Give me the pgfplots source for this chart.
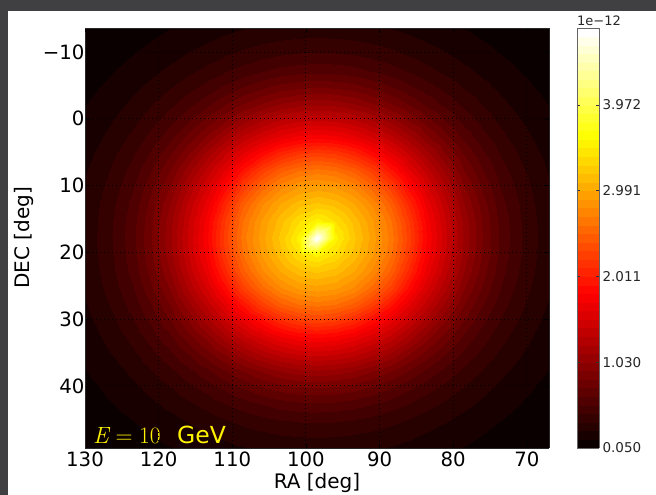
\documentclass[border=0pt]{standalone}
\usepackage{fontspec}
\setmainfont{DejaVu Sans}
\newfontfamily\lmr{Latin Modern Roman}
\usepackage{pgfplots}
\pgfplotsset{compat=1.18}
\definecolor{bgtex}{RGB}{64,64,66}
\definecolor{frame}{RGB}{40,40,40}
\definecolor{cbframe}{RGB}{100,100,100}
\pgfplotsset{
  colormap={mhot}{rgb(0cm)=(0.0416,0,0); rgb(3.65cm)=(1,0,0); rgb(7.46cm)=(1,1,0); rgb(10cm)=(1,1,1)}
}
\begin{document}
\begin{tikzpicture}
\path[use as bounding box] (0pt,0pt) rectangle (656pt,495pt);
\fill[bgtex] (0pt,0pt) rectangle (656pt,495pt);
\fill[white] (8pt,0pt) rectangle (656pt,484pt);
\begin{axis}[
  at={(85pt,47pt)}, anchor=south west,
  scale only axis, width=464pt, height=420pt,
  view={0}{90},
  xmin=67, xmax=130, ymin=-13.6, ymax=49.3,
  x dir=reverse, y dir=reverse,
  xtick={70,80,90,100,110,120,130},
  xticklabels={70,80,90,100,110,120,130},
  ytick={-10,0,10,20,30,40},
  yticklabels={−10,0,10,20,30,40},
  yticklabel pos=upper,
  ztick=\empty,
  tick label style={font=\fontsize{19.7}{23}\selectfont, text=black},
  yticklabel style={xshift=3pt},
  xlabel={RA [deg]}, ylabel={DEC [deg]},
  label style={font=\fontsize{20}{24}\selectfont},
  xlabel style={at={(axis description cs:0.5,-0.0976)}, anchor=base},
  ylabel style={at={(axis description cs:-0.1315,0.5)}, anchor=center},
  grid=major,
  grid style={black, line width=0.9pt, dash pattern=on 1.3pt off 2.7pt},
  axis on top,
  axis line style={frame, line width=0.8pt},
  tick style={black, line width=0.6pt},
  major tick length=4pt, tick align=inside,
  colormap name=mhot,
  point meta min=0.05, point meta max=4.85,
  colorbar,
  colorbar style={
    at={(parent axis.north east)}, anchor=north west, xshift=19.5pt,
    width=22pt,
    ytick={0.05,1.0305,2.011,2.9915,3.972},
    yticklabels={0.050,1.030,2.011,2.991,3.972},
    yticklabel style={font=\fontsize{13.5}{16}\selectfont, text=black!85},
    major tick length=3pt, tick align=inside,
    tick style={black!80, line width=0.6pt},
    axis line style={cbframe, line width=0.8pt},
    extra description/.code={
      \node[anchor=base west, inner sep=0pt, font=\fontsize{13}{15}\selectfont, text=black!85] at ([yshift=3pt]axis description cs:0,1) {1e−12};
    },
  },
]
\addplot3[contour filled={number=49}, mesh/cols=27] table {
131 -14.7 0.050
128.5 -14.7 0.059
126 -14.7 0.074
123.5 -14.7 0.090
121 -14.7 0.107
118.5 -14.7 0.128
116 -14.7 0.152
113.5 -14.7 0.174
111 -14.7 0.194
108.5 -14.7 0.210
106 -14.7 0.229
103.5 -14.7 0.244
101 -14.7 0.252
98.5 -14.7 0.255
96 -14.7 0.252
93.5 -14.7 0.244
91 -14.7 0.229
88.5 -14.7 0.210
86 -14.7 0.194
83.5 -14.7 0.174
81 -14.7 0.152
78.5 -14.7 0.128
76 -14.7 0.107
73.5 -14.7 0.090
71 -14.7 0.074
68.5 -14.7 0.059
66 -14.7 0.050

131 -12.2 0.059
128.5 -12.2 0.076
126 -12.2 0.093
123.5 -12.2 0.114
121 -12.2 0.140
118.5 -12.2 0.169
116 -12.2 0.195
113.5 -12.2 0.224
111 -12.2 0.255
108.5 -12.2 0.281
106 -12.2 0.303
103.5 -12.2 0.323
101 -12.2 0.336
98.5 -12.2 0.340
96 -12.2 0.336
93.5 -12.2 0.323
91 -12.2 0.303
88.5 -12.2 0.281
86 -12.2 0.255
83.5 -12.2 0.224
81 -12.2 0.195
78.5 -12.2 0.169
76 -12.2 0.140
73.5 -12.2 0.114
71 -12.2 0.093
68.5 -12.2 0.076
66 -12.2 0.059

131 -9.7 0.074
128.5 -9.7 0.093
126 -9.7 0.117
123.5 -9.7 0.147
121 -9.7 0.179
118.5 -9.7 0.210
116 -9.7 0.252
113.5 -9.7 0.290
111 -9.7 0.332
108.5 -9.7 0.370
106 -9.7 0.405
103.5 -9.7 0.432
101 -9.7 0.449
98.5 -9.7 0.455
96 -9.7 0.449
93.5 -9.7 0.432
91 -9.7 0.405
88.5 -9.7 0.370
86 -9.7 0.332
83.5 -9.7 0.290
81 -9.7 0.252
78.5 -9.7 0.210
76 -9.7 0.179
73.5 -9.7 0.147
71 -9.7 0.117
68.5 -9.7 0.093
66 -9.7 0.074

131 -7.2 0.090
128.5 -7.2 0.114
126 -7.2 0.147
123.5 -7.2 0.183
121 -7.2 0.221
118.5 -7.2 0.270
116 -7.2 0.319
113.5 -7.2 0.374
111 -7.2 0.432
108.5 -7.2 0.484
106 -7.2 0.534
103.5 -7.2 0.575
101 -7.2 0.601
98.5 -7.2 0.610
96 -7.2 0.601
93.5 -7.2 0.575
91 -7.2 0.534
88.5 -7.2 0.484
86 -7.2 0.432
83.5 -7.2 0.374
81 -7.2 0.319
78.5 -7.2 0.270
76 -7.2 0.221
73.5 -7.2 0.183
71 -7.2 0.147
68.5 -7.2 0.114
66 -7.2 0.090

131 -4.7 0.107
128.5 -4.7 0.140
126 -4.7 0.179
123.5 -4.7 0.221
121 -4.7 0.275
118.5 -4.7 0.336
116 -4.7 0.405
113.5 -4.7 0.478
111 -4.7 0.558
108.5 -4.7 0.640
106 -4.7 0.715
103.5 -4.7 0.776
101 -4.7 0.813
98.5 -4.7 0.825
96 -4.7 0.813
93.5 -4.7 0.776
91 -4.7 0.715
88.5 -4.7 0.640
86 -4.7 0.558
83.5 -4.7 0.478
81 -4.7 0.405
78.5 -4.7 0.336
76 -4.7 0.275
73.5 -4.7 0.221
71 -4.7 0.179
68.5 -4.7 0.140
66 -4.7 0.107

131 -2.2 0.128
128.5 -2.2 0.169
126 -2.2 0.210
123.5 -2.2 0.270
121 -2.2 0.336
118.5 -2.2 0.416
116 -2.2 0.506
113.5 -2.2 0.610
111 -2.2 0.727
108.5 -2.2 0.838
106 -2.2 0.940
103.5 -2.2 1.030
101 -2.2 1.090
98.5 -2.2 1.110
96 -2.2 1.090
93.5 -2.2 1.030
91 -2.2 0.940
88.5 -2.2 0.838
86 -2.2 0.727
83.5 -2.2 0.610
81 -2.2 0.506
78.5 -2.2 0.416
76 -2.2 0.336
73.5 -2.2 0.270
71 -2.2 0.210
68.5 -2.2 0.169
66 -2.2 0.128

131 0.3 0.152
128.5 0.3 0.195
126 0.3 0.252
123.5 0.3 0.319
121 0.3 0.405
118.5 0.3 0.506
116 0.3 0.630
113.5 0.3 0.776
111 0.3 0.924
108.5 0.3 1.090
106 0.3 1.235
103.5 0.3 1.344
101 0.3 1.412
98.5 0.3 1.435
96 0.3 1.412
93.5 0.3 1.344
91 0.3 1.235
88.5 0.3 1.090
86 0.3 0.924
83.5 0.3 0.776
81 0.3 0.630
78.5 0.3 0.506
76 0.3 0.405
73.5 0.3 0.319
71 0.3 0.252
68.5 0.3 0.195
66 0.3 0.152

131 2.8 0.174
128.5 2.8 0.224
126 2.8 0.290
123.5 2.8 0.374
121 2.8 0.478
118.5 2.8 0.610
116 2.8 0.776
113.5 2.8 0.957
111 2.8 1.172
108.5 2.8 1.366
106 2.8 1.532
103.5 2.8 1.670
101 2.8 1.767
98.5 2.8 1.800
96 2.8 1.767
93.5 2.8 1.670
91 2.8 1.532
88.5 2.8 1.366
86 2.8 1.172
83.5 2.8 0.957
81 2.8 0.776
78.5 2.8 0.610
76 2.8 0.478
73.5 2.8 0.374
71 2.8 0.290
68.5 2.8 0.224
66 2.8 0.174

131 5.3 0.194
128.5 5.3 0.255
126 5.3 0.332
123.5 5.3 0.432
121 5.3 0.558
118.5 5.3 0.727
116 5.3 0.924
113.5 5.3 1.172
111 5.3 1.412
108.5 5.3 1.639
106 5.3 1.872
103.5 5.3 2.072
101 5.3 2.208
98.5 5.3 2.255
96 5.3 2.208
93.5 5.3 2.072
91 5.3 1.872
88.5 5.3 1.639
86 5.3 1.412
83.5 5.3 1.172
81 5.3 0.924
78.5 5.3 0.727
76 5.3 0.558
73.5 5.3 0.432
71 5.3 0.332
68.5 5.3 0.255
66 5.3 0.194

131 7.8 0.210
128.5 7.8 0.281
126 7.8 0.370
123.5 7.8 0.484
121 7.8 0.640
118.5 7.8 0.838
116 7.8 1.090
113.5 7.8 1.366
111 7.8 1.639
108.5 7.8 1.946
106 7.8 2.255
103.5 7.8 2.473
101 7.8 2.604
98.5 7.8 2.650
96 7.8 2.604
93.5 7.8 2.473
91 7.8 2.255
88.5 7.8 1.946
86 7.8 1.639
83.5 7.8 1.366
81 7.8 1.090
78.5 7.8 0.838
76 7.8 0.640
73.5 7.8 0.484
71 7.8 0.370
68.5 7.8 0.281
66 7.8 0.210

131 10.3 0.229
128.5 10.3 0.303
126 10.3 0.405
123.5 10.3 0.534
121 10.3 0.715
118.5 10.3 0.940
116 10.3 1.235
113.5 10.3 1.532
111 10.3 1.872
108.5 10.3 2.255
106 10.3 2.559
103.5 10.3 2.778
101 10.3 2.909
98.5 10.3 2.950
96 10.3 2.909
93.5 10.3 2.778
91 10.3 2.559
88.5 10.3 2.255
86 10.3 1.872
83.5 10.3 1.532
81 10.3 1.235
78.5 10.3 0.940
76 10.3 0.715
73.5 10.3 0.534
71 10.3 0.405
68.5 10.3 0.303
66 10.3 0.229

131 12.8 0.244
128.5 12.8 0.323
126 12.8 0.432
123.5 12.8 0.575
121 12.8 0.776
118.5 12.8 1.030
116 12.8 1.344
113.5 12.8 1.670
111 12.8 2.072
108.5 12.8 2.473
106 12.8 2.778
103.5 12.8 2.993
101 12.8 3.145
98.5 12.8 3.210
96 12.8 3.145
93.5 12.8 2.993
91 12.8 2.778
88.5 12.8 2.473
86 12.8 2.072
83.5 12.8 1.670
81 12.8 1.344
78.5 12.8 1.030
76 12.8 0.776
73.5 12.8 0.575
71 12.8 0.432
68.5 12.8 0.323
66 12.8 0.244

131 15.3 0.252
128.5 15.3 0.336
126 15.3 0.449
123.5 15.3 0.601
121 15.3 0.813
118.5 15.3 1.090
116 15.3 1.412
113.5 15.3 1.767
111 15.3 2.208
108.5 15.3 2.604
106 15.3 2.909
103.5 15.3 3.145
101 15.3 3.376
98.5 15.3 3.530
96 15.3 3.376
93.5 15.3 3.145
91 15.3 2.909
88.5 15.3 2.604
86 15.3 2.208
83.5 15.3 1.767
81 15.3 1.412
78.5 15.3 1.090
76 15.3 0.813
73.5 15.3 0.601
71 15.3 0.449
68.5 15.3 0.336
66 15.3 0.252

131 17.8 0.255
128.5 17.8 0.340
126 17.8 0.455
123.5 17.8 0.610
121 17.8 0.825
118.5 17.8 1.110
116 17.8 1.435
113.5 17.8 1.800
111 17.8 2.255
108.5 17.8 2.650
106 17.8 2.950
103.5 17.8 3.210
101 17.8 3.530
98.5 17.8 4.850
96 17.8 3.530
93.5 17.8 3.210
91 17.8 2.950
88.5 17.8 2.650
86 17.8 2.255
83.5 17.8 1.800
81 17.8 1.435
78.5 17.8 1.110
76 17.8 0.825
73.5 17.8 0.610
71 17.8 0.455
68.5 17.8 0.340
66 17.8 0.255

131 20.3 0.252
128.5 20.3 0.336
126 20.3 0.449
123.5 20.3 0.601
121 20.3 0.813
118.5 20.3 1.090
116 20.3 1.412
113.5 20.3 1.767
111 20.3 2.208
108.5 20.3 2.604
106 20.3 2.909
103.5 20.3 3.145
101 20.3 3.376
98.5 20.3 3.530
96 20.3 3.376
93.5 20.3 3.145
91 20.3 2.909
88.5 20.3 2.604
86 20.3 2.208
83.5 20.3 1.767
81 20.3 1.412
78.5 20.3 1.090
76 20.3 0.813
73.5 20.3 0.601
71 20.3 0.449
68.5 20.3 0.336
66 20.3 0.252

131 22.8 0.244
128.5 22.8 0.323
126 22.8 0.432
123.5 22.8 0.575
121 22.8 0.776
118.5 22.8 1.030
116 22.8 1.344
113.5 22.8 1.670
111 22.8 2.072
108.5 22.8 2.473
106 22.8 2.778
103.5 22.8 2.993
101 22.8 3.145
98.5 22.8 3.210
96 22.8 3.145
93.5 22.8 2.993
91 22.8 2.778
88.5 22.8 2.473
86 22.8 2.072
83.5 22.8 1.670
81 22.8 1.344
78.5 22.8 1.030
76 22.8 0.776
73.5 22.8 0.575
71 22.8 0.432
68.5 22.8 0.323
66 22.8 0.244

131 25.3 0.229
128.5 25.3 0.303
126 25.3 0.405
123.5 25.3 0.534
121 25.3 0.715
118.5 25.3 0.940
116 25.3 1.235
113.5 25.3 1.532
111 25.3 1.872
108.5 25.3 2.255
106 25.3 2.559
103.5 25.3 2.778
101 25.3 2.909
98.5 25.3 2.950
96 25.3 2.909
93.5 25.3 2.778
91 25.3 2.559
88.5 25.3 2.255
86 25.3 1.872
83.5 25.3 1.532
81 25.3 1.235
78.5 25.3 0.940
76 25.3 0.715
73.5 25.3 0.534
71 25.3 0.405
68.5 25.3 0.303
66 25.3 0.229

131 27.8 0.210
128.5 27.8 0.281
126 27.8 0.370
123.5 27.8 0.484
121 27.8 0.640
118.5 27.8 0.838
116 27.8 1.090
113.5 27.8 1.366
111 27.8 1.639
108.5 27.8 1.946
106 27.8 2.255
103.5 27.8 2.473
101 27.8 2.604
98.5 27.8 2.650
96 27.8 2.604
93.5 27.8 2.473
91 27.8 2.255
88.5 27.8 1.946
86 27.8 1.639
83.5 27.8 1.366
81 27.8 1.090
78.5 27.8 0.838
76 27.8 0.640
73.5 27.8 0.484
71 27.8 0.370
68.5 27.8 0.281
66 27.8 0.210

131 30.3 0.194
128.5 30.3 0.255
126 30.3 0.332
123.5 30.3 0.432
121 30.3 0.558
118.5 30.3 0.727
116 30.3 0.924
113.5 30.3 1.172
111 30.3 1.412
108.5 30.3 1.639
106 30.3 1.872
103.5 30.3 2.072
101 30.3 2.208
98.5 30.3 2.255
96 30.3 2.208
93.5 30.3 2.072
91 30.3 1.872
88.5 30.3 1.639
86 30.3 1.412
83.5 30.3 1.172
81 30.3 0.924
78.5 30.3 0.727
76 30.3 0.558
73.5 30.3 0.432
71 30.3 0.332
68.5 30.3 0.255
66 30.3 0.194

131 32.8 0.174
128.5 32.8 0.224
126 32.8 0.290
123.5 32.8 0.374
121 32.8 0.478
118.5 32.8 0.610
116 32.8 0.776
113.5 32.8 0.957
111 32.8 1.172
108.5 32.8 1.366
106 32.8 1.532
103.5 32.8 1.670
101 32.8 1.767
98.5 32.8 1.800
96 32.8 1.767
93.5 32.8 1.670
91 32.8 1.532
88.5 32.8 1.366
86 32.8 1.172
83.5 32.8 0.957
81 32.8 0.776
78.5 32.8 0.610
76 32.8 0.478
73.5 32.8 0.374
71 32.8 0.290
68.5 32.8 0.224
66 32.8 0.174

131 35.3 0.152
128.5 35.3 0.195
126 35.3 0.252
123.5 35.3 0.319
121 35.3 0.405
118.5 35.3 0.506
116 35.3 0.630
113.5 35.3 0.776
111 35.3 0.924
108.5 35.3 1.090
106 35.3 1.235
103.5 35.3 1.344
101 35.3 1.412
98.5 35.3 1.435
96 35.3 1.412
93.5 35.3 1.344
91 35.3 1.235
88.5 35.3 1.090
86 35.3 0.924
83.5 35.3 0.776
81 35.3 0.630
78.5 35.3 0.506
76 35.3 0.405
73.5 35.3 0.319
71 35.3 0.252
68.5 35.3 0.195
66 35.3 0.152

131 37.8 0.128
128.5 37.8 0.169
126 37.8 0.210
123.5 37.8 0.270
121 37.8 0.336
118.5 37.8 0.416
116 37.8 0.506
113.5 37.8 0.610
111 37.8 0.727
108.5 37.8 0.838
106 37.8 0.940
103.5 37.8 1.030
101 37.8 1.090
98.5 37.8 1.110
96 37.8 1.090
93.5 37.8 1.030
91 37.8 0.940
88.5 37.8 0.838
86 37.8 0.727
83.5 37.8 0.610
81 37.8 0.506
78.5 37.8 0.416
76 37.8 0.336
73.5 37.8 0.270
71 37.8 0.210
68.5 37.8 0.169
66 37.8 0.128

131 40.3 0.107
128.5 40.3 0.140
126 40.3 0.179
123.5 40.3 0.221
121 40.3 0.275
118.5 40.3 0.336
116 40.3 0.405
113.5 40.3 0.478
111 40.3 0.558
108.5 40.3 0.640
106 40.3 0.715
103.5 40.3 0.776
101 40.3 0.813
98.5 40.3 0.825
96 40.3 0.813
93.5 40.3 0.776
91 40.3 0.715
88.5 40.3 0.640
86 40.3 0.558
83.5 40.3 0.478
81 40.3 0.405
78.5 40.3 0.336
76 40.3 0.275
73.5 40.3 0.221
71 40.3 0.179
68.5 40.3 0.140
66 40.3 0.107

131 42.8 0.090
128.5 42.8 0.114
126 42.8 0.147
123.5 42.8 0.183
121 42.8 0.221
118.5 42.8 0.270
116 42.8 0.319
113.5 42.8 0.374
111 42.8 0.432
108.5 42.8 0.484
106 42.8 0.534
103.5 42.8 0.575
101 42.8 0.601
98.5 42.8 0.610
96 42.8 0.601
93.5 42.8 0.575
91 42.8 0.534
88.5 42.8 0.484
86 42.8 0.432
83.5 42.8 0.374
81 42.8 0.319
78.5 42.8 0.270
76 42.8 0.221
73.5 42.8 0.183
71 42.8 0.147
68.5 42.8 0.114
66 42.8 0.090

131 45.3 0.074
128.5 45.3 0.093
126 45.3 0.117
123.5 45.3 0.147
121 45.3 0.179
118.5 45.3 0.210
116 45.3 0.252
113.5 45.3 0.290
111 45.3 0.332
108.5 45.3 0.370
106 45.3 0.405
103.5 45.3 0.432
101 45.3 0.449
98.5 45.3 0.455
96 45.3 0.449
93.5 45.3 0.432
91 45.3 0.405
88.5 45.3 0.370
86 45.3 0.332
83.5 45.3 0.290
81 45.3 0.252
78.5 45.3 0.210
76 45.3 0.179
73.5 45.3 0.147
71 45.3 0.117
68.5 45.3 0.093
66 45.3 0.074

131 47.8 0.059
128.5 47.8 0.076
126 47.8 0.093
123.5 47.8 0.114
121 47.8 0.140
118.5 47.8 0.169
116 47.8 0.195
113.5 47.8 0.224
111 47.8 0.255
108.5 47.8 0.281
106 47.8 0.303
103.5 47.8 0.323
101 47.8 0.336
98.5 47.8 0.340
96 47.8 0.336
93.5 47.8 0.323
91 47.8 0.303
88.5 47.8 0.281
86 47.8 0.255
83.5 47.8 0.224
81 47.8 0.195
78.5 47.8 0.169
76 47.8 0.140
73.5 47.8 0.114
71 47.8 0.093
68.5 47.8 0.076
66 47.8 0.059

131 50.3 0.050
128.5 50.3 0.059
126 50.3 0.074
123.5 50.3 0.090
121 50.3 0.107
118.5 50.3 0.128
116 50.3 0.152
113.5 50.3 0.174
111 50.3 0.194
108.5 50.3 0.210
106 50.3 0.229
103.5 50.3 0.244
101 50.3 0.252
98.5 50.3 0.255
96 50.3 0.252
93.5 50.3 0.244
91 50.3 0.229
88.5 50.3 0.210
86 50.3 0.194
83.5 50.3 0.174
81 50.3 0.152
78.5 50.3 0.128
76 50.3 0.107
73.5 50.3 0.090
71 50.3 0.074
68.5 50.3 0.059
66 50.3 0.050
};
\node[anchor=base west, inner sep=0pt, text=yellow, font=\fontsize{23.5}{28}\selectfont] at (axis description cs:0.017,0.01) {{\lmr\itshape E\kern0.3em\upshape=\kern0.28em10}\kern0.7em GeV};
\end{axis}
\end{tikzpicture}
\end{document}
